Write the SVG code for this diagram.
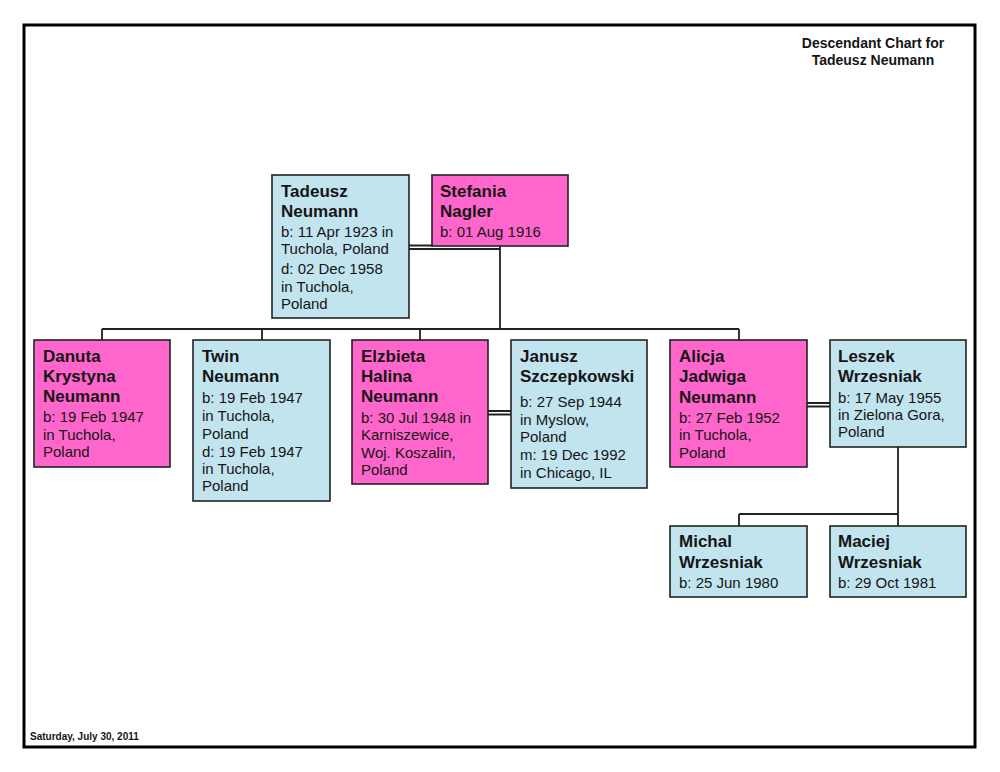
<svg xmlns="http://www.w3.org/2000/svg" width="1000" height="772" viewBox="0 0 1000 772">
<style>
.frame{fill:none;stroke:#000;stroke-width:3}
.m{fill:#c2e4ef;stroke:#222;stroke-width:1.6}
.f{fill:#ff66cc;stroke:#222;stroke-width:1.6}
.ln{fill:none;stroke:#222;stroke-width:1.8}
text{font-family:"Liberation Sans",Arial,sans-serif;fill:#151515}
.n{font-size:17px;font-weight:bold}
.d{font-size:15px}
.t{font-size:14px;font-weight:bold}
.s{font-size:10px;font-weight:bold}
</style>
<rect x="0" y="0" width="1000" height="772" fill="#fff"/>
<rect class="frame" x="24" y="25" width="951" height="722"/>
<g id="title"><text class="t" x="873" y="48" text-anchor="middle">Descendant Chart for</text><text class="t" x="873" y="65" text-anchor="middle">Tadeusz Neumann</text></g>
<g id="footer"><text class="s" x="30" y="740">Saturday, July 30, 2011</text></g>
<g id="connectors">
<path class="ln" d="M408 245.5H432M408 249H500M500 246V329M102 329H739M102 329V340M262 329V340M420 329V340M739 329V340"/>
<path class="ln" d="M488 411H511M488 414.5H511"/>
<path class="ln" d="M807 403H830M807 406.5H830"/>
<path class="ln" d="M898 447V526M739 514H898M739 514V526"/>
</g>
<g id="tadeusz"><rect class="m" x="272" y="175" width="137" height="143"/>
<text class="n" x="281" y="197">Tadeusz</text><text class="n" x="281" y="217">Neumann</text>
<text class="d" x="281" y="237">b: 11 Apr 1923 in</text><text class="d" x="281" y="254">Tuchola, Poland</text><text class="d" x="281" y="274">d: 02 Dec 1958</text><text class="d" x="281" y="291.5">in Tuchola,</text><text class="d" x="281" y="308.5">Poland</text></g>
<g id="stefania"><rect class="f" x="432" y="175" width="136" height="71"/>
<text class="n" x="440" y="197">Stefania</text><text class="n" x="440" y="217">Nagler</text><text class="d" x="440" y="237">b: 01 Aug 1916</text></g>
<g id="danuta"><rect class="f" x="34" y="340" width="136" height="127"/>
<text class="n" x="43" y="362">Danuta</text><text class="n" x="43" y="382">Krystyna</text><text class="n" x="43" y="402">Neumann</text>
<text class="d" x="43" y="422">b: 19 Feb 1947</text><text class="d" x="43" y="439.5">in Tuchola,</text><text class="d" x="43" y="457">Poland</text></g>
<g id="twin"><rect class="m" x="193" y="340" width="137" height="161"/>
<text class="n" x="202" y="362">Twin</text><text class="n" x="202" y="382">Neumann</text>
<text class="d" x="202" y="402.5">b: 19 Feb 1947</text><text class="d" x="202" y="421">in Tuchola,</text><text class="d" x="202" y="438.5">Poland</text><text class="d" x="202" y="456.5">d: 19 Feb 1947</text><text class="d" x="202" y="474">in Tuchola,</text><text class="d" x="202" y="491">Poland</text></g>
<g id="elzbieta"><rect class="f" x="352" y="340" width="136" height="144"/>
<text class="n" x="361" y="362">Elzbieta</text><text class="n" x="361" y="382">Halina</text><text class="n" x="361" y="402">Neumann</text>
<text class="d" x="361" y="422.5">b: 30 Jul 1948 in</text><text class="d" x="361" y="440">Karniszewice,</text><text class="d" x="361" y="457.5">Woj. Koszalin,</text><text class="d" x="361" y="474.5">Poland</text></g>
<g id="janusz"><rect class="m" x="511" y="340" width="136" height="148"/>
<text class="n" x="520" y="362">Janusz</text><text class="n" x="520" y="382">Szczepkowski</text>
<text class="d" x="520" y="407">b: 27 Sep 1944</text><text class="d" x="520" y="425">in Myslow,</text><text class="d" x="520" y="442">Poland</text><text class="d" x="520" y="460">m: 19 Dec 1992</text><text class="d" x="520" y="477.5">in Chicago, IL</text></g>
<g id="alicja"><rect class="f" x="670" y="340" width="137" height="127"/>
<text class="n" x="679" y="362">Alicja</text><text class="n" x="679" y="382">Jadwiga</text><text class="n" x="679" y="402.5">Neumann</text>
<text class="d" x="679" y="422.5">b: 27 Feb 1952</text><text class="d" x="679" y="440">in Tuchola,</text><text class="d" x="679" y="457.5">Poland</text></g>
<g id="leszek"><rect class="m" x="830" y="340" width="136" height="107"/>
<text class="n" x="838" y="362">Leszek</text><text class="n" x="838" y="382">Wrzesniak</text>
<text class="d" x="838" y="402.5">b: 17 May 1955</text><text class="d" x="838" y="420">in Zielona Gora,</text><text class="d" x="838" y="437">Poland</text></g>
<g id="michal"><rect class="m" x="670" y="526" width="137" height="71"/>
<text class="n" x="679" y="547">Michal</text><text class="n" x="679" y="567.5">Wrzesniak</text><text class="d" x="679" y="588">b: 25 Jun 1980</text></g>
<g id="maciej"><rect class="m" x="830" y="526" width="136" height="71"/>
<text class="n" x="838" y="547">Maciej</text><text class="n" x="838" y="567.5">Wrzesniak</text><text class="d" x="838" y="588">b: 29 Oct 1981</text></g>
</svg>
